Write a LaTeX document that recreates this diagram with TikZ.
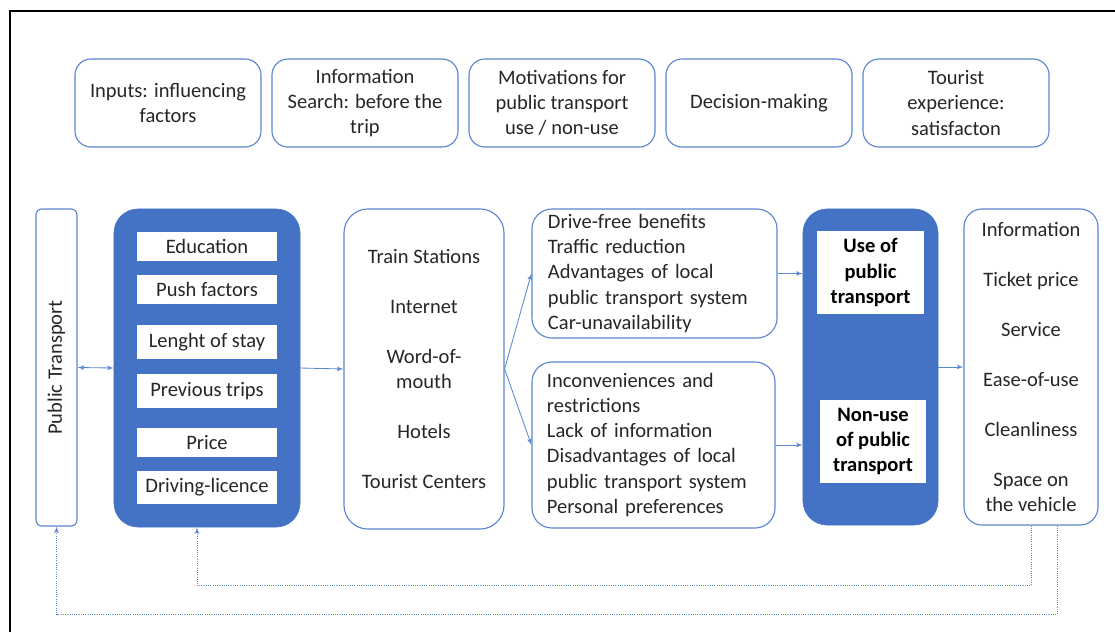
\documentclass[tikz,border=0pt]{standalone}
\usepackage{fontspec}
\setmainfont{Carlito}
\usetikzlibrary{%
  arrows,%
  positioning%
}
\definecolor{ptblue}{HTML}{4472C4}
\definecolor{ptline}{HTML}{5A86D0}
\definecolor{txtgray}{HTML}{262626}
\newcommand{\boxfont}{\fontsize{14.6}{17.8}\selectfont}
\newcommand{\gap}{\\[17.8pt]}

\begin{document}
\begin{tikzpicture}
[x=0.025cm, y=-0.025cm, >=latex',
stage/.style={rectangle, draw=ptline, line width=0.8pt, rounded corners=0.4cm, minimum width=4.65cm, minimum height=2.2cm, align=center, font=\boxfont, text=txtgray},
panel/.style={rectangle, draw=ptline, line width=0.8pt, rounded corners=0.6cm, align=center, font=\boxfont, text=txtgray},
core/.style={rectangle, fill=ptblue, draw=ptblue, rounded corners=0.6cm},
factor/.style={rectangle, fill=white, minimum width=3.5cm, inner sep=0pt, font=\boxfont, text=txtgray},
choice/.style={rectangle, fill=white, inner sep=0pt, align=center, font=\boxfont\bfseries, text=black},
link/.style={->, draw=ptline, line width=0.6pt},
feedback/.style={->, draw=ptline, densely dotted, line width=0.6pt}]

\useasboundingbox (0,0) rectangle (1115,632);
\draw[line width=1.4pt] (10,632) -- (10,11) -- (1115,11);

% stages of the process
\node[stage] (stinputs) at (168,103) {Inputs: influencing\\factors};
\node[stage] (stsearch) at (365,103) {Information\\Search: before the\\trip};
\node[stage] (stmotive) at (562,103) {Motivations for\\public transport\\use / non-use};
\node[stage] (stdecide) at (759,103) {Decision-making};
\node[stage] (stexper) at (956,103) {Tourist\\experience:\\satisfacton};

% public transport
\node[panel, rounded corners=0.15cm, minimum width=1.025cm, minimum height=7.925cm] (pt) at (56.5,367.5) {};
\node[rotate=90, font=\boxfont, text=txtgray] (ptlabel) at (pt.center) {Public Transport};

% influencing factors
\node[core, minimum width=4.65cm, minimum height=7.95cm] (inputs) at (207,368) {};
\node[factor, minimum height=0.725cm] (edu) at (207,246.5) {Education};
\node[factor, minimum height=0.725cm] (push) at (207,289.5) {Push factors};
\node[factor, minimum height=0.85cm] (stay) at (207,342) {Lenght of stay};
\node[factor, minimum height=0.85cm] (trips) at (207,391) {Previous trips};
\node[factor, minimum height=0.725cm] (price) at (207,442.5) {Price};
\node[factor, minimum height=0.825cm] (licence) at (207,487.5) {Driving-licence};

% information sources
\node[panel, minimum width=4cm, minimum height=8cm] (info) at (424,369)
  {Train Stations\gap Internet\gap Word-of-\\mouth\gap Hotels\gap Tourist Centers};

% motivations
\node[panel, rounded corners=0.5cm, minimum width=6.125cm, minimum height=3.225cm, text width=5.325cm, align=left] (pro) at (654.5,273.5)
  {Drive-free benefits\\Traffic reduction\\Advantages of local\\public transport system\\Car-unavailability};
\node[panel, rounded corners=0.5cm, minimum width=6.075cm, minimum height=4.15cm, text width=5.325cm, align=left] (con) at (653.5,445)
  {Inconveniences and\\restrictions\\Lack of information\\Disadvantages of local\\public transport system\\Personal preferences};

% decision
\node[core, minimum width=3.375cm, minimum height=7.9cm] (decision) at (870.5,367) {};
\node[choice, minimum width=2.675cm, minimum height=2.075cm] (use) at (870.5,272.5) {Use of\\public\\transport};
\node[choice, minimum width=2.65cm, minimum height=2.075cm] (nonuse) at (873,441.5) {Non-use\\of public\\transport};

% experience
\node[panel, rounded corners=0.45cm, minimum width=3.35cm, minimum height=7.9cm] (exp) at (1031,367)
  {Information\gap Ticket price\gap Service\gap Ease-of-use\gap Cleanliness\gap Space on\\the vehicle};

% connectors
\draw[link, <->] (pt.east) -- (inputs.west);
\draw[link] (inputs.east) -- (info.west);
\draw[link] (info.east) -- (pro.west);
\draw[link] (info.east) -- (con.west);
\draw[link] (pro.east) -- (pro.east -| decision.west);
\draw[link] (con.east) -- (con.east -| decision.west);
\draw[link] (decision.east) -- (exp.west);

% feedback loops
\draw[feedback] (exp.south) -- ++(0,60) -| ([xshift=-0.25cm]inputs.south);
\draw[feedback] ([xshift=0.65cm]exp.south) -- ++(0,89) -| (pt.south);
\end{tikzpicture}
\end{document}
